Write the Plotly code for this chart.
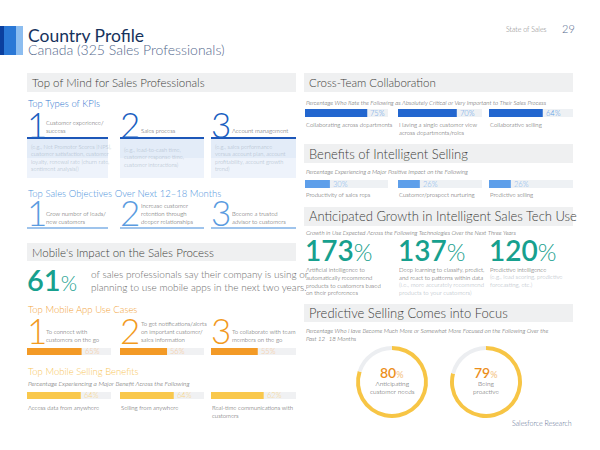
import plotly.graph_objects as go

# ---------------- data ----------------
page_title = "Country Profile"
page_subtitle = "Canada (325 Sales Professionals)"
report_name = "State of Sales"
page_number = "29"
source_label = "Salesforce Research"

kpi_ranks = ["1", "2", "3"]
kpi_labels = ["Customer experience/<br>success", "Sales process", "Account management"]
kpi_examples = [
    "(e.g., Net Promoter Scores [NPS],<br>customer satisfaction, customer<br>loyalty, renewal rate [churn rate,<br>sentiment analysis])",
    "(e.g., lead-to-cash time,<br>customer response time,<br>customer interactions)",
    "(e.g., sales performance<br>versus account plan, account<br>profitability, account growth<br>trend)",
]
objective_ranks = ["1", "2", "3"]
objective_labels = ["Grow number of leads/<br>new customers",
                    "Increase customer<br>retention through<br>deeper relationships",
                    "Become a trusted<br>advisor to customers"]
mobile_adoption_pct = 61
mobile_adoption_text = ("of sales professionals say their company is using or<br>"
                        "planning to use mobile apps in the next two years.")
mobile_use_ranks = ["1", "2", "3"]
mobile_use_labels = ["To connect with<br>customers on the go",
                     "To get notifications/alerts<br>on important customer/<br>sales information",
                     "To collaborate with team<br>members on the go"]
mobile_use_pct = [65, 56, 55]
mobile_benefit_labels = ["Access data from anywhere", "Selling from anywhere",
                         "Real-time communications with<br>customers"]
mobile_benefit_pct = [64, 64, 62]

collab_labels = ["Collaborating across departments",
                 "Having a single customer view<br>across departments/roles",
                 "Collaborative selling"]
collab_pct = [75, 70, 64]
intel_labels = ["Productivity of sales reps", "Customer/prospect nurturing", "Predictive selling"]
intel_pct = [30, 26, 26]
growth_pct = [173, 137, 120]
growth_labels = ["Artificial intelligence to<br>automatically recommend<br>products to customers based<br>on their preferences",
                 "Deep learning to classify, predict,<br>and react to patterns within data",
                 "Predictive intelligence"]
growth_notes = ["",
                "(i.e., more accurately recommend<br>products to your customers)",
                "(e.g., lead scoring, predictive<br>forecasting, etc.)"]
focus_labels = ["Anticipating<br>customer needs", "Being<br>proactive"]
focus_pct = [80, 79]

# ---------------- styling / geometry ----------------
W, H = 600, 450
FONT = "Lato, 'Open Sans', sans-serif"
DARK = "#3e3e3c"
BODY = "#4f4f4f"
NAVY = "#16325c"
TEAL = "#17a08e"
SMALL = 6.0

LEFT_COLS = [(27, 111), (120, 204), (211, 296)]
RIGHT_COLS = [(305, 388), (398, 482), (489, 573)]


def px(x):
    return x / W


def py(y):
    return 1 - y / H


fig = go.Figure()
shapes = []
anns = []


def rect(x0, y0, x1, y1, color, layer="below"):
    shapes.append(dict(type="rect", xref="paper", yref="paper", x0=px(x0), x1=px(x1),
                       y0=py(y1), y1=py(y0), fillcolor=color, line=dict(width=0), layer=layer))


def text(x, y, t, size, color, xanchor="left", yanchor="middle", align="left", weight=300,
         height=None):
    f = dict(family=FONT, size=size, color=color, weight=weight)
    a = dict(x=px(x), y=py(y), xref="paper", yref="paper", text=t, showarrow=False,
             xanchor=xanchor, yanchor=yanchor, align=align, font=f, borderpad=0)
    if height:
        a["height"] = height
        a["valign"] = "middle"
    anns.append(a)


def section(x0, x1, y0, y1, title, size):
    rect(x0, y0, x1, y1, "#eff0f1")
    text(x0 + 4, (y0 + y1) / 2, title, size, DARK, weight=300)


axis_counter = [0]
layout_axes = {}


def add_bar(value, cols, y0, y1, fill, track, lab_color):
    axis_counter[0] += 1
    n = axis_counter[0]
    xa = "x" if n == 1 else f"x{n}"
    ya = "y" if n == 1 else f"y{n}"
    x0, x1 = cols
    rect(x0, y0, x1, y1, track)
    fig.add_trace(go.Bar(x=[value], y=[0], orientation="h", width=1,
                         marker=dict(color=fill, line=dict(width=0)),
                         xaxis=xa, yaxis=ya, hoverinfo="skip", showlegend=False))
    layout_axes["xaxis" if n == 1 else f"xaxis{n}"] = dict(
        domain=[px(x0), px(x1)], range=[0, 100], visible=False, anchor=ya, fixedrange=True)
    layout_axes["yaxis" if n == 1 else f"yaxis{n}"] = dict(
        domain=[py(y1), py(y0)], range=[-0.5, 0.5], visible=False, anchor=xa, fixedrange=True)
    anns.append(dict(x=value, y=0, xref=xa, yref=ya, text=f"{value}%", showarrow=False,
                     xanchor="left", xshift=2, yanchor="middle", borderpad=0,
                     font=dict(family=FONT, size=7.5, color=lab_color, weight=300)))


# ---------------- header ----------------
rect(0, 26, 4, 55, "#0b3f9e")
rect(4, 26, 16, 55, "#2a78d6")
rect(16, 26, 23, 55, "#8cbdf0")
text(27, 34.5, page_title, 17.5, NAVY, weight=400, height=16)
text(27, 49.5, page_subtitle, 14, "#54698d", weight=300, height=14)
text(548, 29, report_name, 7, "#7a7a7a", xanchor="right")
text(576, 29, page_number, 11, "#54698d", xanchor="right")

# ---------------- left column ----------------
section(27, 296, 73, 92, "Top of Mind for Sales Professionals", 11.5)
text(27, 103, "Top Types of KPIs", 9.5, "#2f77cf")
for i, (c0, c1) in enumerate(LEFT_COLS):
    text(c0 - 1, 124, kpi_ranks[i], 35, "#1b5fc1", weight=300, height=28)
    text(c0 + (18 if i == 0 else 20), 126 if i == 0 else 130, kpi_labels[i], SMALL, BODY)
    x1 = c1 - (3 if i == 0 else 0)
    rect(c0, 139, x1, 158, "#e3ecf8")
    rect(c0, 158, x1, 178, "#eef3fb")
    shapes.append(dict(type="line", xref="paper", yref="paper", x0=px(c0), x1=px(x1),
                       y0=py(138), y1=py(138), line=dict(color="#1d57b8", width=2)))
    text(c0 + 3, 157, kpi_examples[i], 5.7, "#a9b7c8")

text(27, 193, "Top Sales Objectives Over Next 12–18 Months", 9.5, "#4e93dc")
for i, (c0, c1) in enumerate(LEFT_COLS):
    text(c0 - 1, 212, objective_ranks[i], 35, "#5a9be0", weight=300, height=28)
    text(c0 + (18 if i == 0 else 20), 217 if i != 1 else 213, objective_labels[i], SMALL, BODY)
    x1 = c1 - (3 if i == 0 else 0)
    shapes.append(dict(type="line", xref="paper", yref="paper", x0=px(c0), x1=px(x1),
                       y0=py(228), y1=py(228), line=dict(color="#7fb0e6", width=1.5)))

section(27, 296, 243, 261, "Mobile's Impact on the Sales Process", 11.5)
anns.append(dict(x=px(26), y=py(279), xref="paper", yref="paper", showarrow=False,
                 xanchor="left", yanchor="middle", borderpad=0, height=26, valign="middle",
                 text=f"{mobile_adoption_pct}<span style='font-size:21px;font-weight:300'>%</span>",
                 font=dict(family=FONT, size=29, color=TEAL, weight=600)))
text(90, 280, mobile_adoption_text, 10, "#6b6b6b", weight=300)

text(27, 309, "Top Mobile App Use Cases", 9.5, "#f2a33a")
for i, (c0, c1) in enumerate(LEFT_COLS):
    text(c0 - 1, 330, mobile_use_ranks[i], 35, "#f29a1e", weight=300, height=28)
    text(c0 + (18 if i == 0 else 20), 335 if i != 1 else 331, mobile_use_labels[i], SMALL, BODY)
    add_bar(mobile_use_pct[i], (c0, c1), 348, 355, "#f39a26", "#f0f1f3", "#f7c591")

text(27, 371, "Top Mobile Selling Benefits", 9.5, "#f8c65a")
text(27, 383, "<i>Percentage Experiencing a Major Benefit Across the Following</i>", 6.5, BODY)
for i, (c0, c1) in enumerate(LEFT_COLS):
    add_bar(mobile_benefit_pct[i], (c0, c1), 392, 399, "#f9c84c", "#f0f1f3", "#f8d585")
    text(c0, 403, mobile_benefit_labels[i], SMALL, BODY, yanchor="top")

# ---------------- right column ----------------
section(304, 573, 73, 92, "Cross-Team Collaboration", 11.5)
text(305, 102, "<i>Percentage Who Rate the Following as Absolutely Critical or Very Important to Their Sales Process</i>", 6.1, BODY)
for i, cols in enumerate(RIGHT_COLS):
    add_bar(collab_pct[i], cols, 109, 117, "#2266cf", "#eef1f4", "#5d9ce6")
    text(cols[0], 120, collab_labels[i], SMALL, BODY, yanchor="top")

section(304, 573, 144, 163, "Benefits of Intelligent Selling", 13)
text(305, 171, "<i>Percentage Experiencing a Major Positive Impact on the Following</i>", 6.1, BODY)
for i, cols in enumerate(RIGHT_COLS):
    add_bar(intel_pct[i], cols, 180, 188, "#5e9fea", "#eef1f4", "#80b4ee")
    text(cols[0], 190, intel_labels[i], SMALL, BODY, yanchor="top")

section(304, 573, 207, 226, "Anticipated Growth in Intelligent Sales Tech Use", 13)
text(305, 232, "<i>Growth in Use Expected Across the Following Technologies Over the Next Three Years</i>", 6.1, BODY)
for i, (c0, c1) in enumerate(RIGHT_COLS):
    anns.append(dict(x=px(c0 - 1), y=py(250), xref="paper", yref="paper", showarrow=False,
                     xanchor="left", yanchor="middle", borderpad=0, height=26, valign="middle",
                     text=f"{growth_pct[i]}<span style='font-size:24px;font-weight:300'>%</span>",
                     font=dict(family=FONT, size=28, color=TEAL, weight=600)))
    text(c0, 264.5, growth_labels[i], SMALL, BODY, yanchor="top")
    if growth_notes[i]:
        nl = growth_labels[i].count("<br>") + 1
        text(c0, 264.5 + 7.8 * nl, growth_notes[i], SMALL, "#a9b1bb", yanchor="top")

section(304, 573, 304, 322, "Predictive Selling Comes into Focus", 13)
text(305, 334, "<i>Percentage Who Have Become Much More or Somewhat More Focused on the Following Over the<br>Past 12–18 Months</i>", 6.1, BODY)

DONUT_CENTERS = [(392, 382), (486, 382)]
R = 36
for i, (cx, cy) in enumerate(DONUT_CENTERS):
    fig.add_trace(go.Pie(values=[focus_pct[i], 100 - focus_pct[i]], hole=0.89, sort=False,
                         direction="clockwise", rotation=0, textinfo="none", hoverinfo="skip",
                         marker=dict(colors=["#f7c545", "#eceef1"], line=dict(width=0)),
                         domain=dict(x=[px(cx - R), px(cx + R)], y=[py(cy + R), py(cy - R)]),
                         showlegend=False))
    anns.append(dict(x=px(cx), y=py(372), xref="paper", yref="paper", showarrow=False,
                     xanchor="center", yanchor="middle", borderpad=0,
                     text=f"{focus_pct[i]}<span style='font-size:9px;color:#f5c98f'>%</span>",
                     font=dict(family=FONT, size=14, color="#ec8f1c", weight=600)))
    text(cx, 387, focus_labels[i], 6.5, BODY, xanchor="center", align="center")

text(573, 423, source_label, 7, "#54698d", xanchor="right")

fig.update_layout(width=W, height=H, autosize=False, margin=dict(l=0, r=0, t=0, b=0),
                  paper_bgcolor="white", plot_bgcolor="white", barmode="overlay",
                  shapes=shapes, annotations=anns, showlegend=False, **layout_axes)
fig.write_html("out.html", config={"displayModeBar": False},
               post_script="document.body.style.margin='0';")
